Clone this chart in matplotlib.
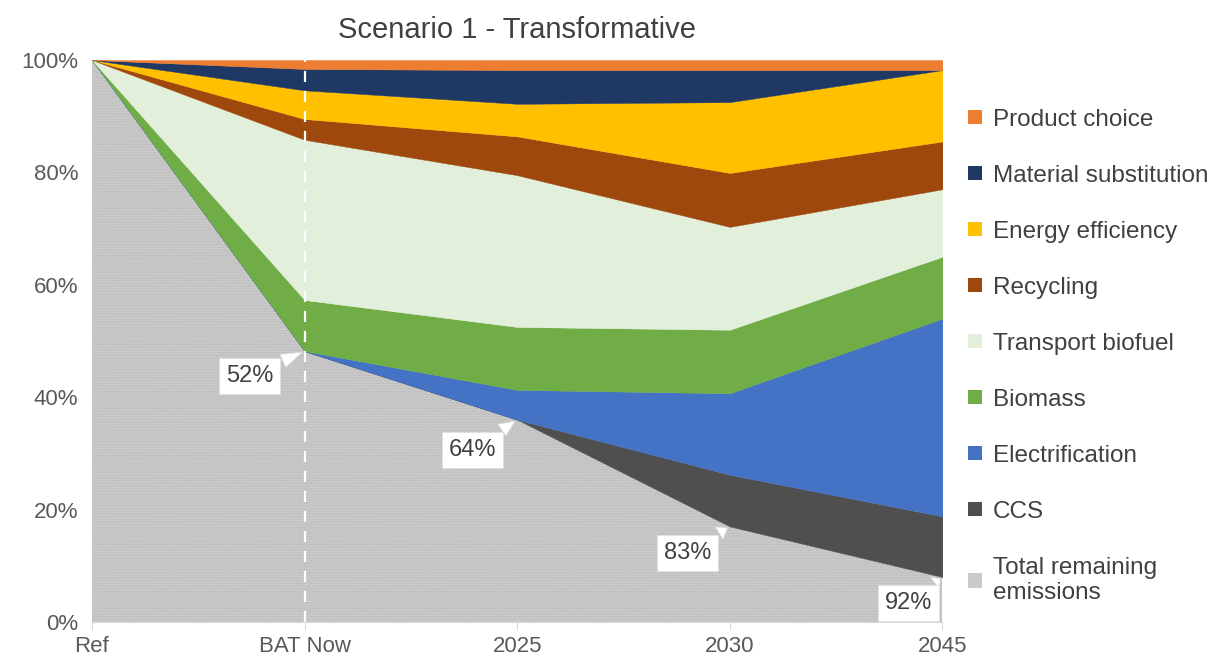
import numpy as np
from matplotlib import pyplot as plt
from matplotlib.patches import Patch

# shares of reference emissions (%), bottom to top of the stack
steps = ["Ref", "BAT Now", "2025", "2030", "2045"]
remaining = [100, 48.2, 36.0, 17.0, 8.0]
ccs = [0, 0, 0, 9.2, 10.8]
electrification = [0, 0, 5.3, 14.5, 35.2]
biomass = [0, 9.1, 11.2, 11.3, 11.0]
transport_biofuel = [0, 28.5, 27.0, 18.3, 12.0]
recycling = [0, 3.7, 6.9, 9.6, 8.5]
energy_eff = [0, 5.1, 5.8, 12.6, 12.7]
material_sub = [0, 3.8, 6.0, 5.7, 0.0]
product_choice = [0, 1.6, 1.8, 1.8, 1.8]

reductions = ["52%", "64%", "83%", "92%"]
label_pos = [(0.74, 43.8), (1.79, 30.6), (2.80, 12.3), (3.84, 3.4)]

names = ["Total remaining\nemissions", "CCS", "Electrification", "Biomass",
         "Transport biofuel", "Recycling", "Energy efficiency",
         "Material substitution", "Product choice"]
series = [remaining, ccs, electrification, biomass, transport_biofuel,
          recycling, energy_eff, material_sub, product_choice]
colors = ["#c9c9c9", "#4f4f4f", "#4472c4", "#70ad47", "#e2efda",
          "#9e480e", "#ffc000", "#1f3864", "#ed7d31"]

if __name__ == "__main__":
    plt.rcParams['font.family'] = ['Liberation Sans', 'DejaVu Sans']
    plt.rcParams['hatch.linewidth'] = 0.5
    plt.rcParams['hatch.color'] = "#b4b4b4"

    fig = plt.figure(figsize=(12.15, 6.62), dpi=100)
    ax = fig.add_axes([0.0757, 0.0604, 0.700, 0.849])

    x = np.arange(len(steps))
    bottom = np.zeros(len(steps))
    for name, vals, col in zip(names, series, colors):
        top = bottom + np.array(vals)
        if name.startswith("Total"):
            ax.fill_between(x, bottom, top, facecolor=col, edgecolor="#b4b4b4",
                            hatch="......", linewidth=0)
        else:
            ax.fill_between(x, bottom, top, facecolor=col, edgecolor=col, linewidth=0.3)
        bottom = top

    ax.plot([1, 1], [0, 100], color="white", linestyle=(0, (5, 4)), linewidth=1.6)

    # callouts for total reduction
    for i, (lab, (tx, ty)) in enumerate(zip(reductions, label_pos)):
        px = i + 1
        py = remaining[i + 1]
        ax.annotate(lab, xy=(px, py), xytext=(tx, ty), ha="center", va="center",
                    fontsize=17, color="#404040",
                    bbox=dict(boxstyle="square,pad=0.3", fc="white", ec="#e0e0e0", lw=0.6),
                    arrowprops=dict(arrowstyle="wedge,tail_width=0.6,shrink_factor=0.5",
                                    fc="white", ec="#e0e0e0", lw=0.5))

    ax.set_xlim(0, 4)
    ax.set_ylim(0, 100)
    ax.set_xticks(x)
    ax.set_xticklabels(steps)
    ax.set_yticks(np.arange(0, 101, 20))
    ax.set_yticklabels([f"{v}%" for v in range(0, 101, 20)])
    ax.tick_params(axis="both", labelsize=16, labelcolor="#595959")
    ax.tick_params(axis="y", length=0, pad=10)
    ax.tick_params(axis="x", length=6, color="#d9d9d9", pad=4)
    for s in ["top", "left", "right"]:
        ax.spines[s].set_visible(False)
    ax.spines["bottom"].set_color("#d9d9d9")

    ax.set_title("Scenario 1 - Transformative", fontsize=21, color="#404040", pad=16)

    handles = [Patch(facecolor=c, edgecolor="none", hatch=("......" if n.startswith("Total") else None))
               for n, c in zip(names, colors)]
    fig.legend(handles[::-1], names[::-1], loc="upper left", bbox_to_anchor=(0.797, 0.836),
               frameon=False, fontsize=17.5, labelspacing=1.4, handlelength=0.55,
               handleheight=0.55, handletextpad=0.45, labelcolor="#404040",
               borderaxespad=0, borderpad=0)

    plt.savefig("out.png")
